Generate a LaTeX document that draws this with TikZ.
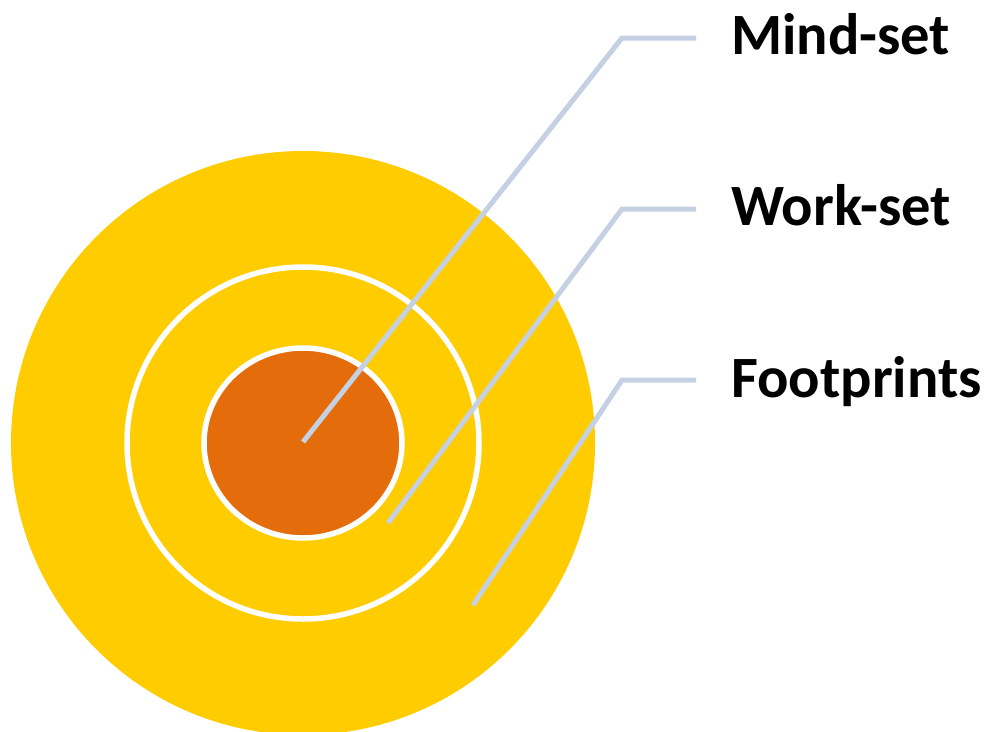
\documentclass[tikz,border=0pt]{standalone}
\usepackage{fontspec}
\setmainfont{Carlito}
\usetikzlibrary{shapes.geometric}
\definecolor{ringyellow}{HTML}{FFCC00}
\definecolor{coreorange}{HTML}{E46C0A}
\definecolor{leaderblue}{HTML}{C5D0E3}
\tikzset{
  ring/.style={circle, inner sep=0pt, outer sep=0pt},
  leader/.style={draw=leaderblue, line width=5pt, line join=miter},
  label/.style={anchor=base west, inner sep=0pt, font=\fontsize{58.5}{58.5}\selectfont\bfseries}
}
\begin{document}
\begin{tikzpicture}[x=1pt,y=-1pt]
\useasboundingbox (0,0) rectangle (984,731);
\begin{scope}
\clip (0,0) rectangle (984,731);
\node[ring, fill=ringyellow, minimum size=584pt] (outer) at (303,443) {};
\node[ring, draw=white, line width=5.5pt, minimum size=352pt] (middle) at (303,443) {};
\node[ellipse, inner sep=0pt, outer sep=0pt, fill=coreorange, draw=white, line width=5.5pt, minimum width=198pt, minimum height=190pt] (inner) at (303,443) {};
\end{scope}
\coordinate (pm) at (303,442);
\coordinate (pw) at (388,523);
\coordinate (pf) at (473,605);
\coordinate (cm) at (622,38);
\coordinate (cw) at (622,209);
\coordinate (cf) at (622,380);
\coordinate (em) at (696,38);
\coordinate (ew) at (696,209);
\coordinate (ef) at (696,380);
\node[label] (tm) at (731,54) {Mind-set};
\node[label] (tw) at (731,225.5) {Work-set};
\node[label] (tf) at (731,397) {Footprints};
\draw[leader] (pm) -- (cm) -- (em);
\draw[leader] (pw) -- (cw) -- (ew);
\draw[leader] (pf) -- (cf) -- (ef);
\end{tikzpicture}
\end{document}
